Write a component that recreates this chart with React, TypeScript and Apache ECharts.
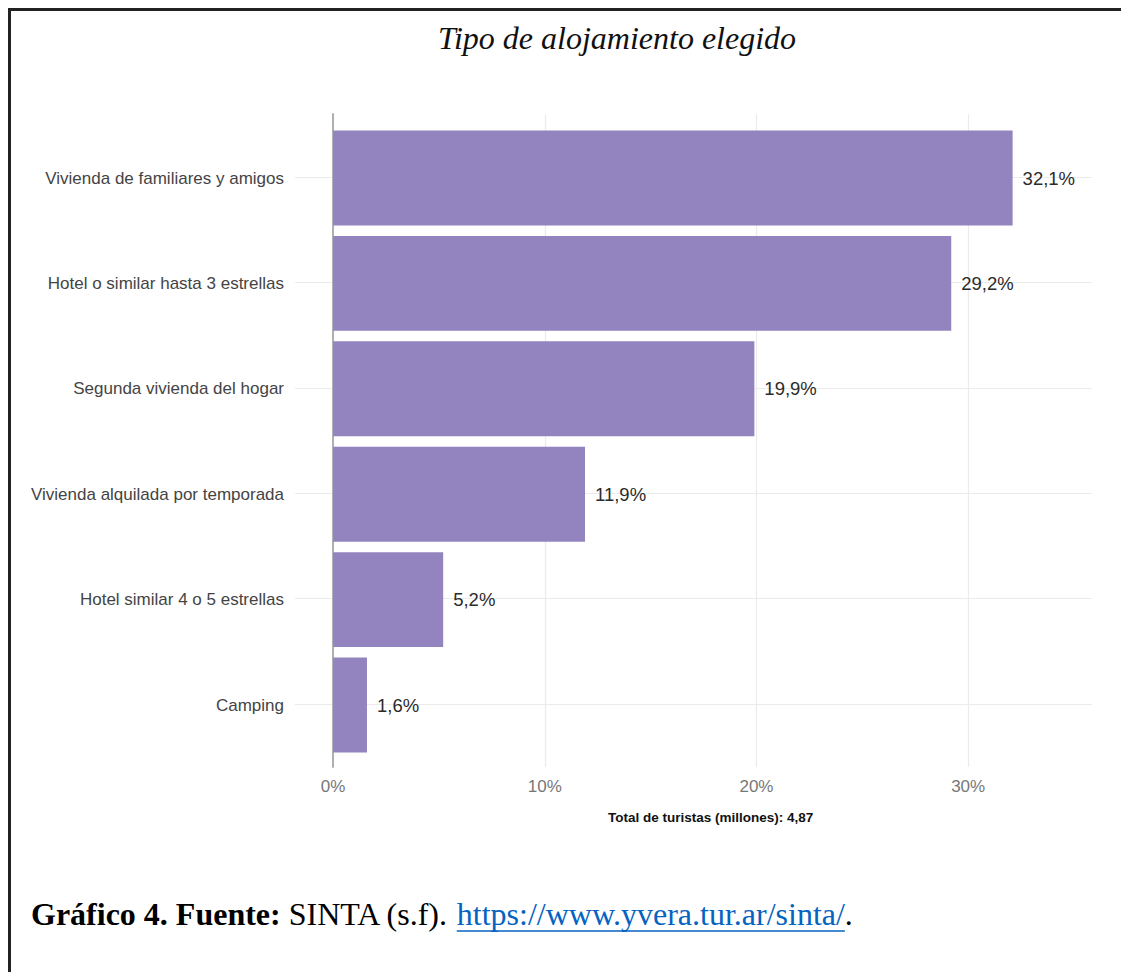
import React, { useEffect, useRef } from "react";
import * as echarts from "echarts";

const categories = [
  "Vivienda de familiares y amigos",
  "Hotel o similar hasta 3 estrellas",
  "Segunda vivienda del hogar",
  "Vivienda alquilada por temporada",
  "Hotel similar 4 o 5 estrellas",
  "Camping",
];
const shares = [32.1, 29.2, 19.9, 11.9, 5.2, 1.6];
const titleText = "Tipo de alojamiento elegido";
const subtitleText = "Total de turistas (millones): 4,87";
const captionBold = "Gráfico 4. Fuente:";
const captionPlain = " SINTA (s.f). ";
const captionUrl = "https://www.yvera.tur.ar/sinta/";
const captionEnd = ".";

const BAR = "#9383be";
const GRID_LINE = "#ebebeb";
const SANS = '"Liberation Sans", Arial, sans-serif';

function measure(text: string, font: string): number {
  const c = document.createElement("canvas").getContext("2d");
  if (!c) return text.length * 12;
  c.font = font;
  return c.measureText(text).width;
}

export default function App() {
  const ref = useRef<HTMLDivElement>(null);

  useEffect(() => {
    if (!ref.current) return;
    const chart = echarts.init(ref.current, undefined, { renderer: "svg" });

    const capFont = '"Liberation Serif", "Times New Roman", serif';
    const capSize = 32;
    const capX = 31;
    const capY = 914;
    const wBold = measure(captionBold, `bold ${capSize}px ${capFont}`);
    const wPlain = measure(captionPlain, `${capSize}px ${capFont}`);
    const wUrl = measure(captionUrl, `${capSize}px ${capFont}`);
    const urlX = capX + wBold + wPlain;

    const xMin = -1.8;
    const xMax = 35.85;

    chart.setOption({
      animation: false,
      backgroundColor: "#ffffff",
      grid: [
        { left: 295, right: 29, top: 125.3, bottom: 214.3 },
        { left: 295, right: 29, top: 114, bottom: 205 },
      ],
      xAxis: [
        {
          type: "value",
          gridIndex: 0,
          min: xMin,
          max: xMax,
          show: false,
        },
        {
          type: "value",
          gridIndex: 1,
          min: xMin,
          max: xMax,
          minInterval: 10,
          maxInterval: 10,
          axisLine: { show: false, onZero: false },
          axisTick: { show: false },
          axisLabel: {
            show: true,
            margin: 11,
            color: "#777777",
            fontSize: 17,
            fontFamily: SANS,
            showMinLabel: false,
            showMaxLabel: false,
            formatter: (v: number) =>
              Math.abs(v % 10) < 1e-9 ? `${v}%` : "",
          },
          splitLine: {
            show: true,
            showMinLine: false,
            showMaxLine: false,
            lineStyle: { color: GRID_LINE, width: 1.2 },
          },
        },
      ],
      yAxis: [
        {
          type: "category",
          gridIndex: 0,
          data: categories,
          inverse: true,
          axisLine: { show: false, onZero: false },
          axisTick: { show: false },
          splitLine: { show: false },
          axisLabel: {
            margin: 11,
            color: "#444444",
            fontSize: 17,
            fontFamily: SANS,
          },
        },
        {
          type: "value",
          gridIndex: 1,
          inverse: true,
          min: -0.6,
          max: 5.6,
          minInterval: 1,
          maxInterval: 1,
          axisLine: {
            show: true,
            onZero: true,
            lineStyle: { color: "#b0b0b0", width: 2 },
          },
          axisTick: { show: false },
          axisLabel: { show: false },
          splitLine: {
            show: true,
            showMinLine: false,
            showMaxLine: false,
            lineStyle: { color: GRID_LINE, width: 1.2 },
          },
        },
      ],
      series: [
        {
          type: "bar",
          xAxisIndex: 0,
          yAxisIndex: 0,
          data: shares,
          barCategoryGap: "10%",
          itemStyle: { color: BAR },
          z: 3,
          label: {
            show: true,
            position: "right",
            distance: 10,
            color: "#2b2b2b",
            fontSize: 18.5,
            fontFamily: SANS,
            formatter: (p: any) =>
              `${String(p.value.toFixed(1)).replace(".", ",")}%`,
          },
        },
      ],
      graphic: [
        {
          type: "polyline",
          shape: {
            points: [
              [9.5, 972],
              [9.5, 9.5],
              [1121, 9.5],
            ],
          },
          style: { stroke: "#222222", lineWidth: 3, fill: null },
          silent: true,
        },
        {
          type: "text",
          x: 617,
          y: 38,
          style: {
            text: titleText,
            fill: "#111111",
            font: `italic 32px ${capFont}`,
            textAlign: "center",
            textVerticalAlign: "middle",
          },
        },
        {
          type: "text",
          x: 608,
          y: 817,
          style: {
            text: subtitleText,
            fill: "#111111",
            font: `bold 13.5px ${SANS}`,
            textAlign: "left",
            textVerticalAlign: "middle",
          },
        },
        {
          type: "text",
          x: capX,
          y: capY,
          style: {
            text: captionBold,
            fill: "#000000",
            font: `bold ${capSize}px ${capFont}`,
            textAlign: "left",
            textVerticalAlign: "middle",
          },
        },
        {
          type: "text",
          x: capX + wBold,
          y: capY,
          style: {
            text: captionPlain,
            fill: "#000000",
            font: `${capSize}px ${capFont}`,
            textAlign: "left",
            textVerticalAlign: "middle",
          },
        },
        {
          type: "text",
          x: urlX,
          y: capY,
          style: {
            text: captionUrl,
            fill: "#0563c1",
            font: `${capSize}px ${capFont}`,
            textAlign: "left",
            textVerticalAlign: "middle",
          },
        },
        {
          type: "line",
          shape: { x1: urlX, y1: 931, x2: urlX + wUrl, y2: 931 },
          style: { stroke: "#0563c1", lineWidth: 1.5 },
        },
        {
          type: "text",
          x: urlX + wUrl,
          y: capY,
          style: {
            text: captionEnd,
            fill: "#000000",
            font: `${capSize}px ${capFont}`,
            textAlign: "left",
            textVerticalAlign: "middle",
          },
        },
      ],
    });

    return () => {
      chart.dispose();
    };
  }, []);

  return (
    <div
      ref={ref}
      style={{
        position: "fixed",
        left: 0,
        top: 0,
        width: 1121,
        height: 972,
        background: "#ffffff",
      }}
    />
  );
}
